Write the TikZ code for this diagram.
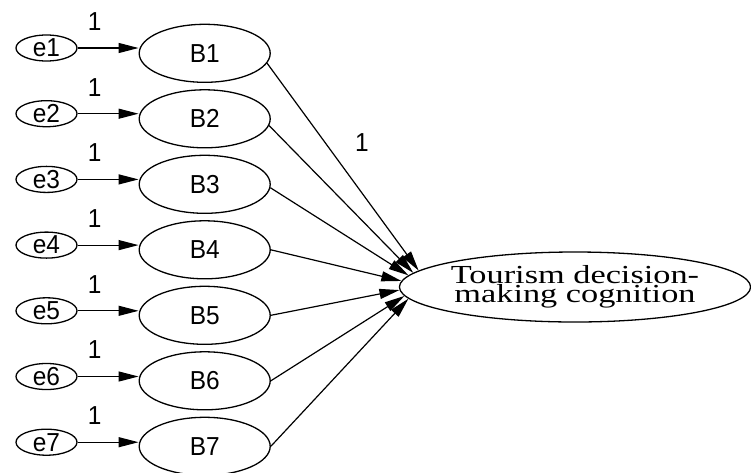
\documentclass[tikz,border=0pt]{standalone}
\usepackage{fontspec}
\newfontfamily\pathsans[FakeStretch=0.94]{Liberation Sans}
\newfontfamily\pathserif[FakeStretch=1.32]{Liberation Serif}
\usepackage{tikz}
\usetikzlibrary{positioning, arrows.meta, shapes.geometric}

\begin{document}
\begin{tikzpicture}[
  x=1pt, y=-1pt,
  font=\pathsans\fontsize{26}{26}\selectfont,
  err/.style={draw, ellipse, line width=1.3pt, inner sep=0pt,
    minimum width=61pt, minimum height=26pt},
  obs/.style={draw, ellipse, line width=1.3pt, inner sep=0pt,
    minimum width=131pt, minimum height=58pt},
  lat/.style={draw, ellipse, line width=1.3pt, inner sep=0pt,
    minimum width=350pt, minimum height=70pt, align=center,
    font=\pathserif\fontsize{26}{19}\selectfont},
  wt/.style={inner sep=0pt},
  arr/.style={-{Triangle[length=20pt, width=10pt]}, line width=1.2pt},
]
  \useasboundingbox (0,0) rectangle (751,472);

  % Error terms and observed indicators
  \foreach \i in {1,...,7} {
    \node[err] (e\i) at (46.5, {48+65.7*(\i-1)}) {e\i};
    \node[obs] (B\i) at (204.7, {53.3+65.5*(\i-1)}) {B\i};
  }

  % Latent variable
  \node[lat] (T) at (575, 287) {Tourism decision-\\making cognition};

  % Fixed error loadings
  \foreach \i in {1,...,7}
    \draw[arr] (e\i.east) -- (e\i.east -| B\i.west)
      node[wt, pos=0.28, above=17pt] {1};

  % Paths into the latent variable
  \foreach \i/\s/\t in {1/-9/174.9, 2/-6/175.4, 3/-3/176.3, 4/0/178.2,
                        5/0/181.4, 6/0/183.6, 7/0/184.6}
    \draw[arr] (B\i.\s) -- (T.\t);

  \node[wt] (w1) at (362, 143) {1};
\end{tikzpicture}
\end{document}
